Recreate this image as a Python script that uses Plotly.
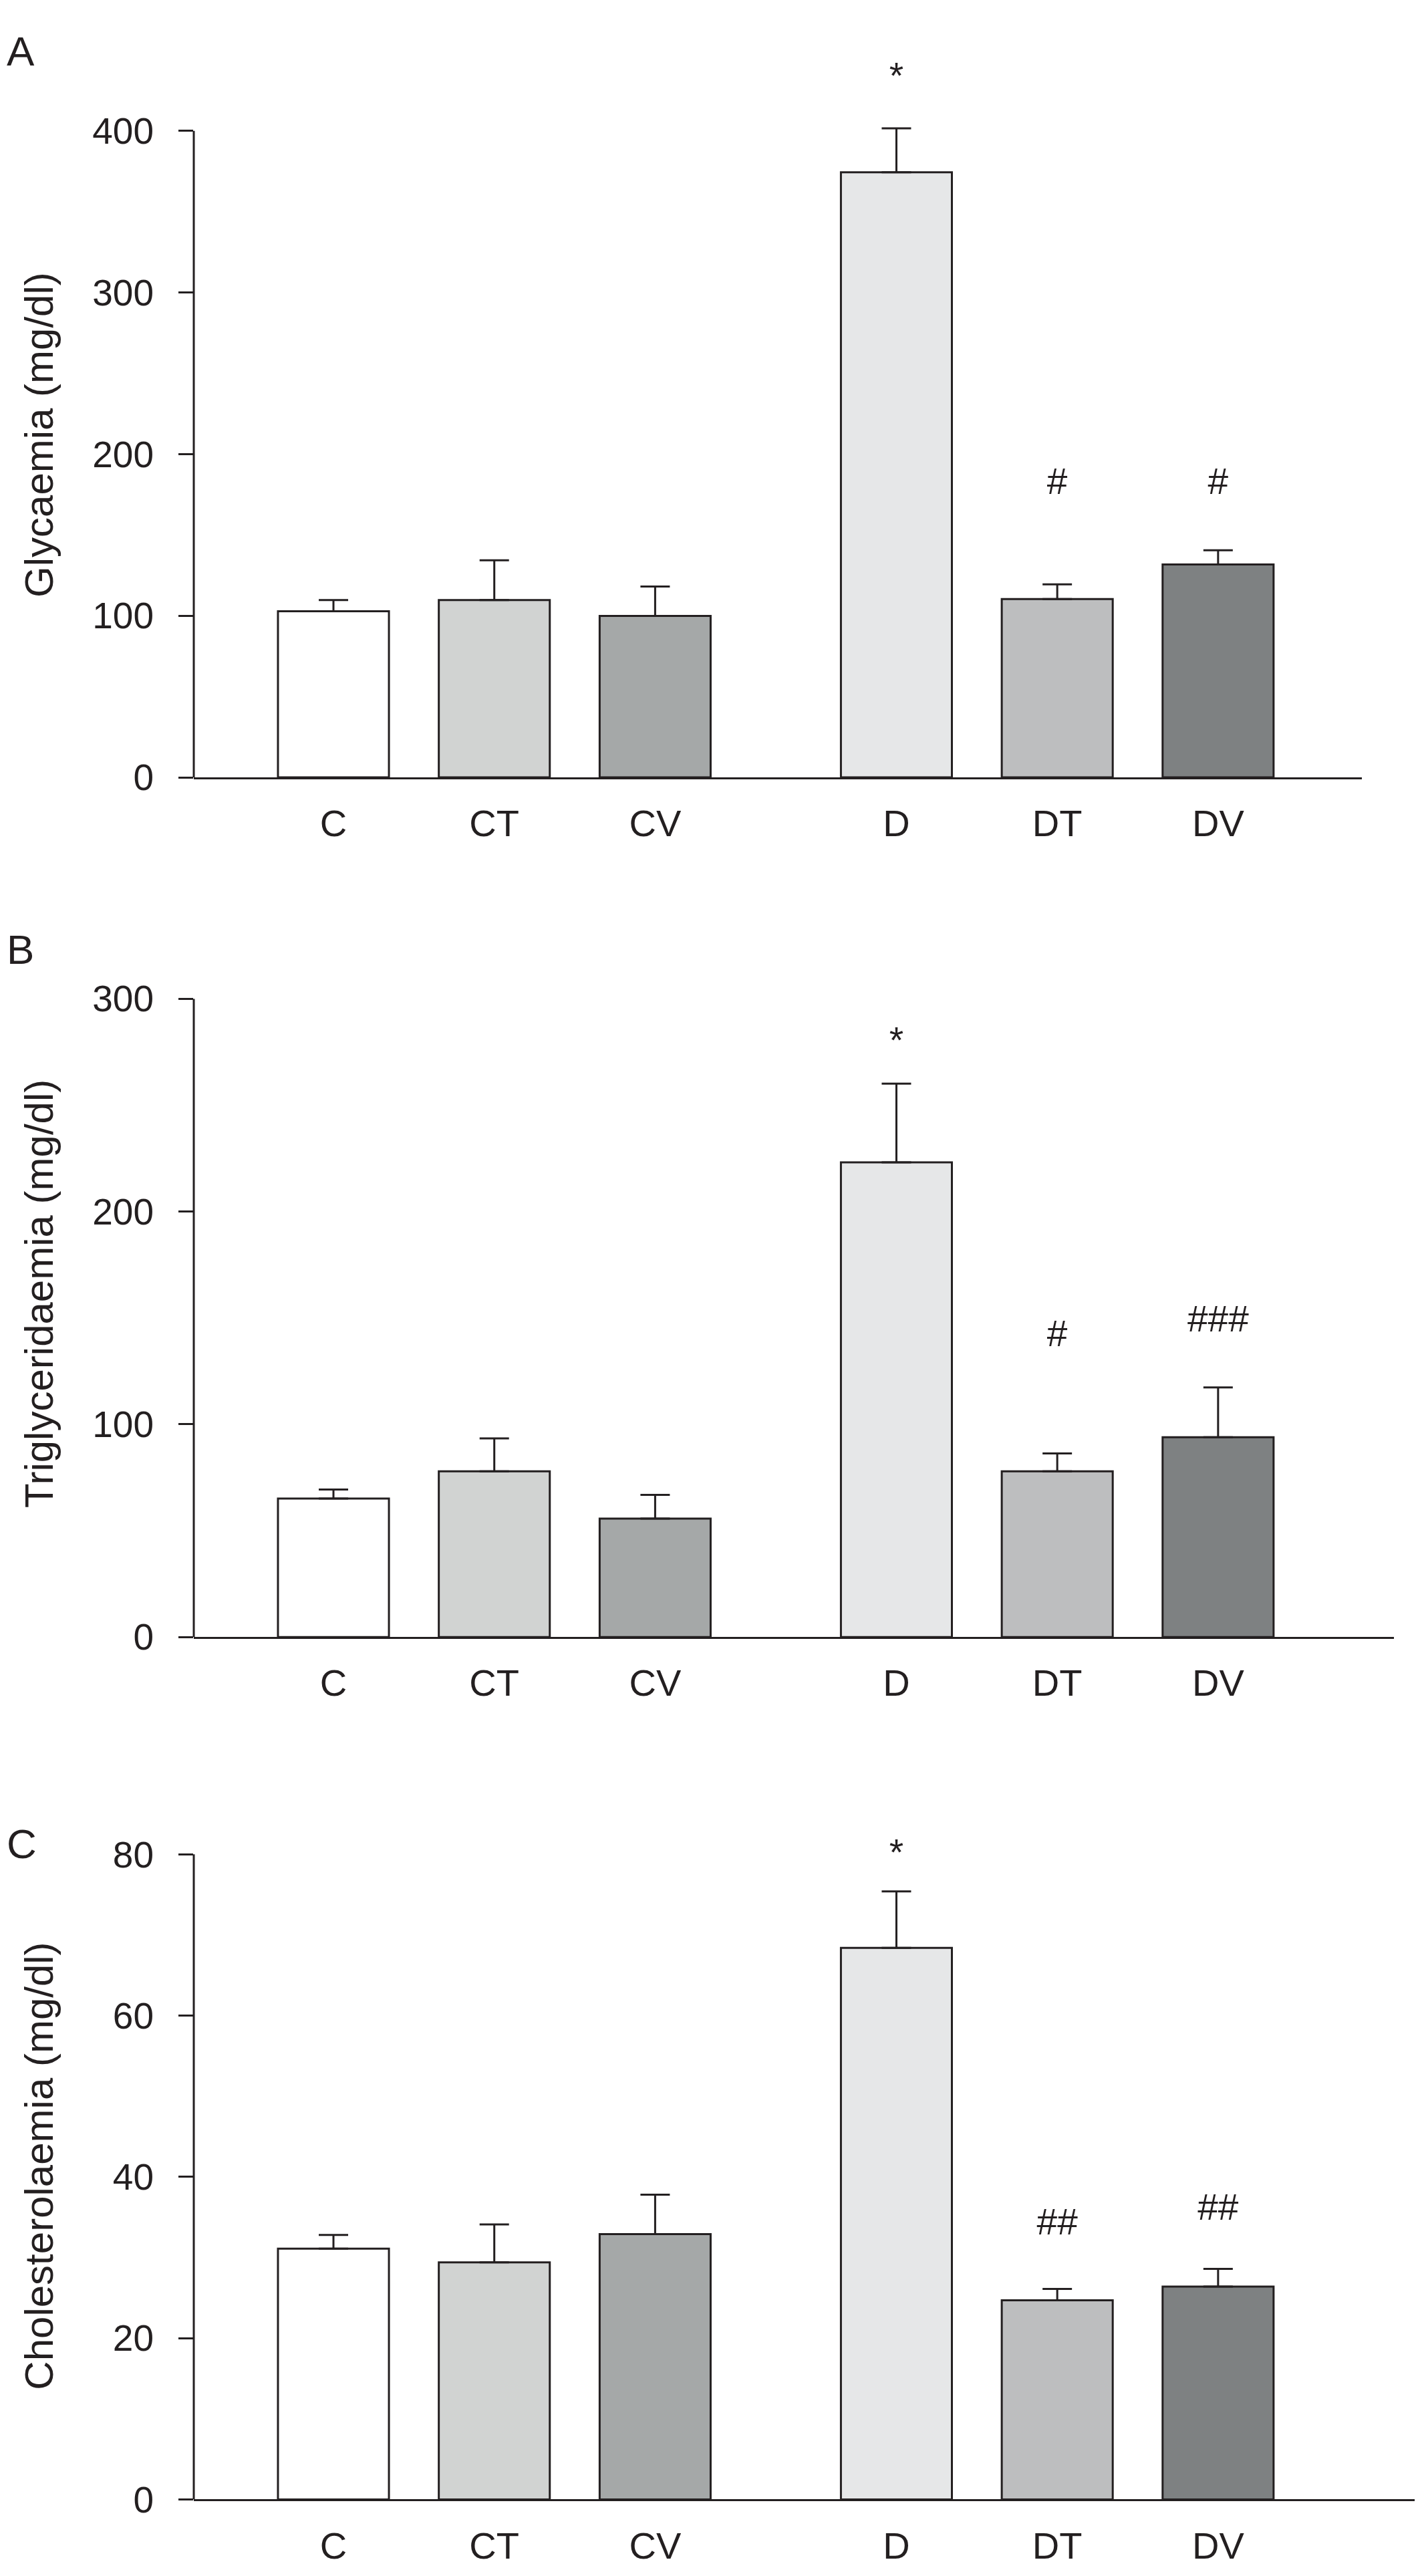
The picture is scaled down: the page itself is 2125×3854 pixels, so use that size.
import plotly.graph_objects as go

# Data (mean and upper end of the error bar)
groups = ['C', 'CT', 'CV', 'D', 'DT', 'DV']

glyc_mean = [102.8, 109.7, 99.9, 374.4, 110.3, 131.7]
glyc_upper = [109.7, 134.3, 118.1, 401.6, 119.4, 140.5]
glyc_marks = ['', '', '', '*', '#', '#']
glyc_mark_y = [0, 0, 0, 432, 181, 181]

trig_mean = [65.1, 77.9, 55.7, 223.1, 77.9, 93.9]
trig_upper = [69.3, 93.4, 66.8, 260.1, 86.3, 117.3]
trig_marks = ['', '', '', '*', '#', '###']
trig_mark_y = [0, 0, 0, 279, 141, 148]

chol_mean = [31.1, 29.4, 32.9, 68.4, 24.7, 26.4]
chol_upper = [32.8, 34.1, 37.8, 75.4, 26.1, 28.6]
chol_marks = ['', '', '', '*', '##', '##']
chol_mark_y = [0, 0, 0, 79.8, 34.0, 35.8]

# Layout / style
bar_pos = [0, 1, 2, 3.5, 4.5, 5.5]
bar_width = 0.69
fills = ['#ffffff', '#d1d3d2', '#a5a8a8', '#e6e7e8', '#bdbebf', '#7e8182']
ink = '#231f20'
font = 'Liberation Sans, Arial, sans-serif'
W, H = 2125, 3854

# y0/y1: pixel rows of 0 and of the top tick; rtop: headroom kept for marks
panels = [
    dict(letter='A', title='Glycaemia (mg/dl)', mean=glyc_mean, upper=glyc_upper,
         marks=glyc_marks, mark_y=glyc_mark_y, ymax=400, dtick=100, rtop=455,
         y0=1142.4, y1=159.4, xend=2030, letter_y=38, title_y=622),
    dict(letter='B', title='Triglyceridaemia (mg/dl)', mean=trig_mean, upper=trig_upper,
         marks=trig_marks, mark_y=trig_mark_y, ymax=300, dtick=100, rtop=300,
         y0=2449.6, y1=1479, xend=2078, letter_y=1404, title_y=1928),
    dict(letter='C', title='Cholesterolaemia (mg/dl)', mean=chol_mean, upper=chol_upper,
         marks=chol_marks, mark_y=chol_mark_y, ymax=80, dtick=20, rtop=86,
         y0=3761, y1=2780, xend=2125, letter_y=2764, title_y=3254),
]

x_left_px = 282
c_px = 491
unit_px = 240.7

fig = go.Figure()
annotations = []
shapes = []

for i, p in enumerate(panels):
    n = '' if i == 0 else str(i + 1)
    err = [u - m for u, m in zip(p['upper'], p['mean'])]
    fig.add_trace(go.Bar(
        x=bar_pos, y=p['mean'], width=bar_width,
        marker=dict(color=fills, line=dict(color=ink, width=3)),
        error_y=dict(type='data', symmetric=False, array=err,
                     arrayminus=[0] * len(err), color=ink, thickness=3, width=22),
        xaxis='x' + n, yaxis='y' + n, hoverinfo='skip',
    ))

    # significance marks above the bars
    mx = [xp for xp, mk in zip(bar_pos, p['marks']) if mk]
    my = [yv for yv, mk in zip(p['mark_y'], p['marks']) if mk]
    mt = [mk for mk in p['marks'] if mk]
    fig.add_trace(go.Scatter(
        x=mx, y=my, text=mt, mode='text', textposition='middle center',
        textfont=dict(family=font, size=55, color=ink), cliponaxis=False,
        xaxis='x' + n, yaxis='y' + n, hoverinfo='skip',
    ))

    px_per_unit = (p['y0'] - p['y1']) / p['ymax']
    top_px = p['y0'] - p['rtop'] * px_per_unit
    xr = [(x_left_px - c_px) / unit_px, (p['xend'] - c_px) / unit_px]
    fig.layout['xaxis' + n] = dict(
        domain=[x_left_px / W, p['xend'] / W], range=xr, anchor='y' + n,
        showline=True, linecolor=ink, linewidth=3, showgrid=False, zeroline=False,
        tickvals=bar_pos, ticktext=groups, ticks='', ticklabelstandoff=18,
        tickfont=dict(family=font, size=56, color=ink),
    )
    fig.layout['yaxis' + n] = dict(
        domain=[1 - p['y0'] / H, 1 - top_px / H], range=[0, p['rtop']],
        anchor='x' + n, showline=False, showgrid=False, zeroline=False,
        tickvals=list(range(0, p['ymax'] + 1, p['dtick'])),
        ticks='outside', ticklen=22, tickwidth=3, tickcolor=ink, ticklabelstandoff=26,
        tickfont=dict(family=font, size=55, color=ink),
    )
    # y-axis line only up to the top tick
    shapes.append(dict(
        type='line', xref='x' + n + ' domain', yref='y' + n,
        x0=0, x1=0, y0=0, y1=p['ymax'], line=dict(color=ink, width=3)))

    # y-axis title and panel letter
    annotations.append(dict(
        text=p['title'], xref='paper', yref='paper', x=51 / W, y=1 - p['title_y'] / H,
        textangle=-90, showarrow=False, xanchor='center', yanchor='middle',
        font=dict(family=font, size=60, color=ink)))
    annotations.append(dict(
        text=p['letter'], xref='paper', yref='paper', x=0, y=1 - p['letter_y'] / H,
        showarrow=False, xanchor='left', yanchor='middle',
        font=dict(family=font, size=62, color=ink)))

fig.update_layout(
    width=W, height=H, margin=dict(l=0, r=0, t=0, b=0),
    paper_bgcolor='white', plot_bgcolor='white', showlegend=False,
    annotations=annotations, shapes=shapes,
)

fig.write_html("out.html")
